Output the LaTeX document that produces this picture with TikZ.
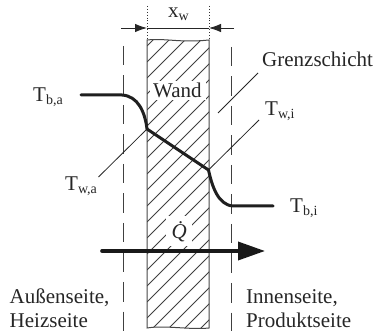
\documentclass[tikz,border=0pt]{standalone}
\usepackage{fontspec}
\setmainfont{Liberation Serif}
\usetikzlibrary{arrows.meta}
\tikzset{
 lbl/.style={inner sep=0pt,anchor=base west,font=\fontsize{21}{24}\selectfont,text=black!85},
 bound/.style={line width=1pt,black!75,dash pattern=on 19.5pt off 10pt},
 leader/.style={line width=0.8pt,black!85},
 curve/.style={line width=3pt,black!88,line cap=round,line join=round},
 hatchline/.style={line width=0.8pt,black!75},
 wallborder/.style={line width=1pt,black!72},
 dim/.style={line width=0.9pt,black!85},
 dimtip/.style={dim,-{Latex[length=12pt,width=8.5pt]}},
}
\newcommand{\Tsub}[2]{#1\raisebox{-3pt}{\fontsize{14}{14}\selectfont #2}}
\begin{document}
\begin{tikzpicture}[x=1pt,y=-1pt]
\useasboundingbox (0,0) rectangle (375,331);
\fill[white] (0,0) rectangle (375,331);
% wall
\begin{scope}
\clip (147,40) .. controls (165,38) and (180,43) .. (209,40) -- (209,328) .. controls (190,330) and (165,325) .. (147,328) -- cycle;
\foreach \k in {0,...,24} \draw[hatchline] (147,{30+\k*16}) -- ++(70,-70);
\end{scope}
\draw[wallborder] (147,40) .. controls (165,38) and (180,43) .. (209,40) -- (209,328) .. controls (190,330) and (165,325) .. (147,328) -- cycle;
% dotted + dimension
\draw[line width=0.9pt,black!80,dotted] (147,6) -- (147,40);
\draw[line width=0.9pt,black!80,dotted] (209,6) -- (209,40);
\coordinate (dl) at (121,28); \coordinate (wl) at (147,28);
\coordinate (dr) at (234,28); \coordinate (wr) at (209,28);
\draw[dim] (wl) -- (wr);
\draw[dimtip] (dl) -- (wl);
\draw[dimtip] (dr) -- (wr);
\node[lbl] (xw) at (168,18) {\Tsub{x}{w}};
% boundary
\coordinate (la) at (123,46); \coordinate (lb) at (123,331);
\coordinate (ra) at (231.7,47); \coordinate (rb) at (231.7,331);
\draw[bound] (la) -- (lb);
\draw[bound] (ra) -- (rb);
% labels on wall
\fill[white] (150,81) rectangle (206,100);
\fill[white] (166,216) rectangle (192,246);
\node[lbl] (wand) at (153,98) {Wand};
\node[lbl] (q) at (171.5,239) {\textit{\.Q}};
% leader lines
\coordinate (ta) at (147,129);
\coordinate (ti) at (208.5,170);
\draw[leader] (98.5,177) -- (ta);
\draw[leader] (ti) -- (259,120);
\draw[leader] (218,113) -- (258,73);
% curve
\draw[curve] (81,95) -- (122,95) .. controls (138,96) and (145,112) .. (ta) -- (ti) .. controls (212,186) and (218,205) .. (233,206) -- (273,206);
% heat arrow
\coordinate (qs) at (102,251);
\coordinate (qe) at (265,251);
\draw[line width=3.6pt,black!90,line cap=round,-{Triangle[length=27pt,width=18pt]}] (qs) -- (qe);
% texts
\node[lbl] (gs) at (262,67) {Grenzschicht};
\node[lbl] (tba) at (33,102) {\Tsub{T}{b,a}};
\node[lbl] (twi) at (265,116) {\Tsub{T}{w,i}};
\node[lbl] (twa) at (65,191) {\Tsub{T}{w,a}};
\node[lbl] (tbi) at (290,213) {\Tsub{T}{b,i}};
\node[lbl] (as) at (9.5,303) {Außenseite,};
\node[lbl] (hs) at (9.5,327) {Heizseite};
\node[lbl] (is) at (246,303) {Innenseite,};
\node[lbl] (ps) at (246,327) {Produktseite};
\end{tikzpicture}
\end{document}
